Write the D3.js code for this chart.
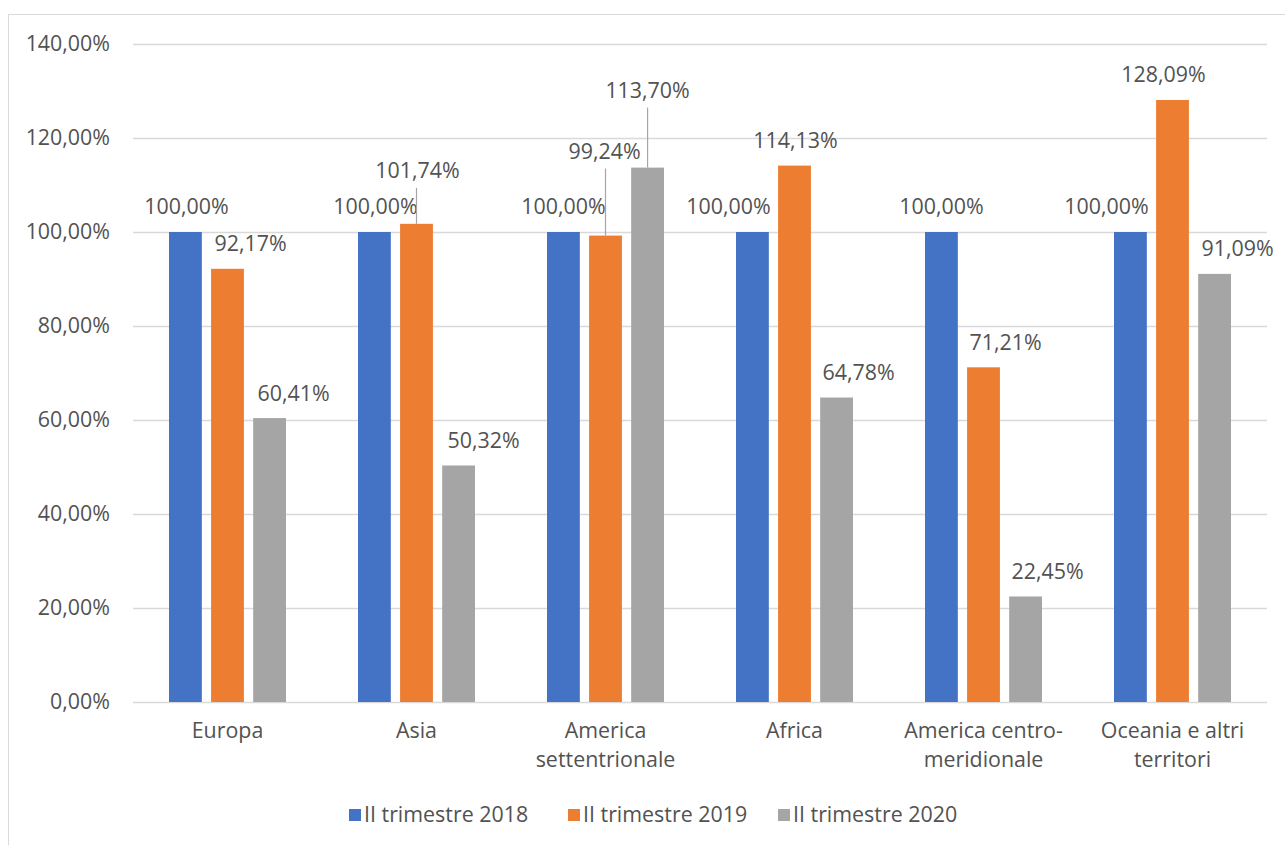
<!DOCTYPE html>
<html><head><meta charset="utf-8">
<script src="https://cdn.jsdelivr.net/npm/d3@7"></script>
<style>body{margin:0;background:#fff;} text{font-family:"Open Sans",sans-serif;fill:#525252;}</style>
</head><body><svg id="c" width="1285" height="845"></svg>
<script>
const categories = [["Europa"],["Asia"],["America","settentrionale"],["Africa"],["America centro-","meridionale"],["Oceania e altri","territori"]];
const seriesNames = ["II trimestre 2018","II trimestre 2019","II trimestre 2020"];
const s2018 = [100.00,100.00,100.00,100.00,100.00,100.00];
const s2019 = [92.17,101.74,99.24,114.13,71.21,128.09];
const s2020 = [60.41,50.32,113.70,64.78,22.45,91.09];
const colors = ["#4472C4","#ED7D31","#A5A5A5"];
const yTicks = [0,20,40,60,80,100,120,140];
// label placement offsets (px) relative to default position above bar
const labelDx = [[1,1,0,-24,0,-24],[23,1,-1,1,22,-9],[24,25,0,22,22,23]];
const labelDy = [[0,0,0,0,0,0],[0,-28,-59,0,0,0],[0,0,-52,0,0,0]];
const leader = [[0,0,0,0,0,0],[0,1,1,0,0,0],[0,0,1,0,0,0]];

const series = [s2018,s2019,s2020];
const svg = d3.select("#c");
const fmt = v => v.toFixed(2).replace(".",",") + "%";
const FS = 21.4;

svg.append("rect").attr("x",8.5).attr("y",14.5).attr("width",1290).attr("height",850)
  .attr("fill","none").attr("stroke","#D9D9D9");

const x0 = d3.scaleBand().domain(d3.range(categories.length)).range([133,1267]).padding(0);
const x1 = d3.scaleBand().domain(d3.range(3)).range([36,153]).paddingInner(0.22).paddingOuter(0);
const y = d3.scaleLinear().domain([0,140]).range([702,44]);

// gridlines
svg.append("g").selectAll("line").data(yTicks).join("line")
  .attr("x1",133).attr("x2",1267).attr("y1",d=>y(d)+0.5).attr("y2",d=>y(d)+0.5)
  .attr("stroke","#D9D9D9").attr("stroke-width",1.3);

// y tick labels
svg.append("g").selectAll("text").data(yTicks).join("text")
  .attr("x",110).attr("y",d=>y(d)).attr("dy","0.35em").attr("text-anchor","end")
  .attr("font-size",FS).text(d=>d.toFixed(2).replace(".",",")+"%");

// bars
series.forEach((s,si)=>{
  svg.append("g").selectAll("rect").data(s).join("rect")
    .attr("x",(d,i)=>x0(i)+x1(si)).attr("width",x1.bandwidth())
    .attr("y",d=>y(d)).attr("height",d=>y(0)-y(d)).attr("fill",colors[si]);
});

// labels and leaders
series.forEach((s,si)=>{
  s.forEach((v,i)=>{
    const cx = x0(i)+x1(si)+x1.bandwidth()/2;
    const ly = y(v)-25+labelDy[si][i];
    if(leader[si][i]){
      svg.append("line").attr("x1",cx).attr("x2",cx).attr("y1",ly+17).attr("y2",y(v))
        .attr("stroke","#A6A6A6").attr("stroke-width",1.2);
    }
    svg.append("text").attr("x",cx+labelDx[si][i]).attr("y",ly).attr("dy","0.35em")
      .attr("text-anchor","middle").attr("font-size",FS).text(fmt(v));
  });
});

// x axis labels
categories.forEach((lines,i)=>{
  const t = svg.append("text").attr("text-anchor","middle").attr("font-size",FS);
  lines.forEach((ln,li)=>{
    t.append("tspan").attr("x",x0(i)+x0.bandwidth()/2).attr("y",731+li*29).attr("dy","0.35em").text(ln);
  });
});

// legend
const legX = [349,568,778];
const lg = svg.append("g");
seriesNames.forEach((n,i)=>{
  lg.append("rect").attr("x",legX[i]).attr("y",809).attr("width",12).attr("height",12).attr("fill",colors[i]);
  lg.append("text").attr("x",legX[i]+15).attr("y",815).attr("dy","0.35em").attr("font-size",FS).text(n);
});
</script></body></html>
